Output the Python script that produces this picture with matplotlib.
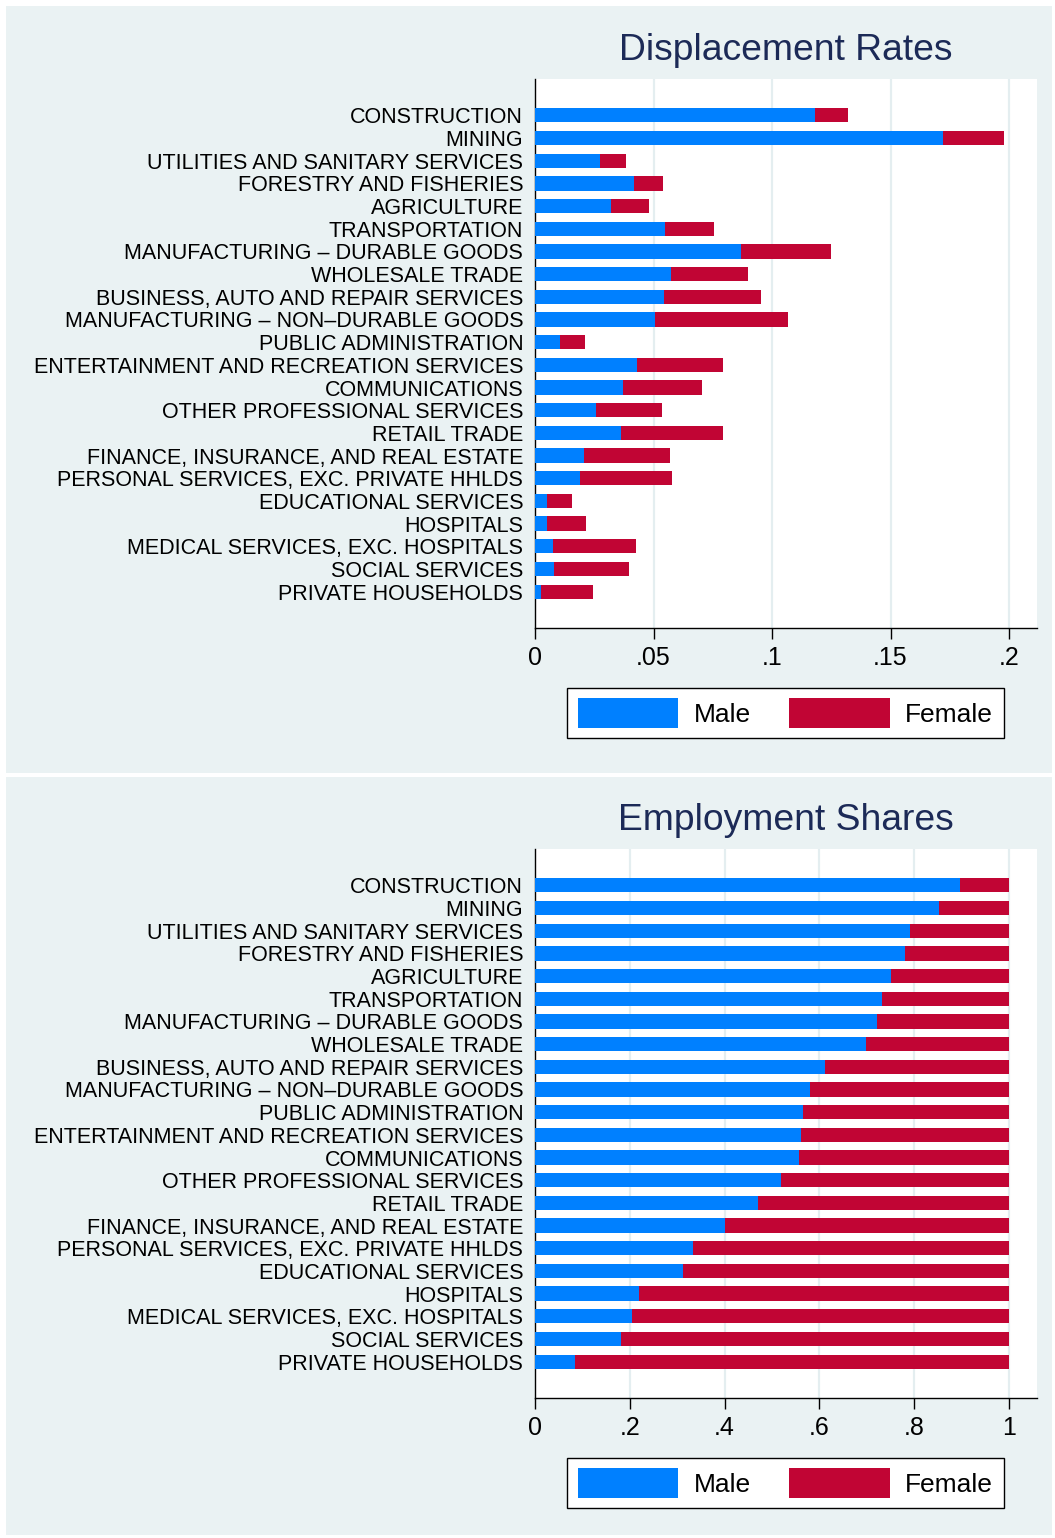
import matplotlib
matplotlib.use("Agg")
import matplotlib.pyplot as plt
from matplotlib.patches import Rectangle, Patch
import numpy as np

plt.rcParams['font.family'] = ['Liberation Sans', 'DejaVu Sans']

# industries, top to bottom
industries = [
    "CONSTRUCTION",
    "MINING",
    "UTILITIES AND SANITARY SERVICES",
    "FORESTRY AND FISHERIES",
    "AGRICULTURE",
    "TRANSPORTATION",
    "MANUFACTURING \u2013 DURABLE GOODS",
    "WHOLESALE TRADE",
    "BUSINESS, AUTO AND REPAIR SERVICES",
    "MANUFACTURING \u2013 NON\u2013DURABLE GOODS",
    "PUBLIC ADMINISTRATION",
    "ENTERTAINMENT AND RECREATION SERVICES",
    "COMMUNICATIONS",
    "OTHER PROFESSIONAL SERVICES",
    "RETAIL TRADE",
    "FINANCE, INSURANCE, AND REAL ESTATE",
    "PERSONAL SERVICES, EXC. PRIVATE HHLDS",
    "EDUCATIONAL SERVICES",
    "HOSPITALS",
    "MEDICAL SERVICES, EXC. HOSPITALS",
    "SOCIAL SERVICES",
    "PRIVATE HOUSEHOLDS",
]

# displacement rates (stacked: male + female)
disp_male = [0.1181, 0.1722, 0.0274, 0.0419, 0.0321, 0.0550, 0.0868, 0.0574,
             0.0544, 0.0508, 0.0105, 0.0430, 0.0371, 0.0259, 0.0363, 0.0205,
             0.0188, 0.0051, 0.0051, 0.0075, 0.0081, 0.0025]
disp_female = [0.0138, 0.0257, 0.0109, 0.0121, 0.0161, 0.0207, 0.0381, 0.0326,
               0.0410, 0.0558, 0.0106, 0.0365, 0.0334, 0.0277, 0.0430, 0.0365,
               0.0390, 0.0106, 0.0164, 0.0352, 0.0316, 0.0218]

# employment shares
emp_male = [0.897, 0.852, 0.792, 0.780, 0.751, 0.732, 0.722, 0.698,
            0.611, 0.580, 0.565, 0.562, 0.557, 0.519, 0.470, 0.401,
            0.333, 0.313, 0.219, 0.205, 0.181, 0.085]
emp_female = [0.103, 0.148, 0.208, 0.220, 0.249, 0.268, 0.278, 0.302,
              0.389, 0.420, 0.435, 0.438, 0.443, 0.481, 0.530, 0.599,
              0.667, 0.687, 0.781, 0.795, 0.819, 0.915]

disp_ticks = [0, 0.05, 0.1, 0.15, 0.2]
disp_ticklabels = ["0", ".05", ".1", ".15", ".2"]
emp_ticks = [0, 0.2, 0.4, 0.6, 0.8, 1.0]
emp_ticklabels = ["0", ".2", ".4", ".6", ".8", "1"]

BLUE = "#0080FF"
RED = "#C10534"
BG = "#EAF2F3"
GRID = "#E4EEF0"
TITLE = "#1C2A57"

W, H = 1055, 1538
fig = plt.figure(figsize=(W / 100, H / 100), dpi=100, facecolor="white")


def fx(px):
    return px / W


def fy(py):
    return 1 - py / H


# light bluish panel backgrounds (one per graph), kept behind the axes
for top, bot in [(6, 773), (777, 1535)]:
    fig.patches.append(Rectangle((fx(6), fy(bot)), fx(1052) - fx(6), fy(top) - fy(bot),
                                 transform=fig.transFigure, facecolor=BG,
                                 edgecolor="none", zorder=-10))


def panel(top, bottom, title, male, female, xmax, ticks, ticklabels):
    ax = fig.add_axes([fx(535), fy(bottom), fx(1037) - fx(535), fy(top) - fy(bottom)])
    ax.set_facecolor("white")
    y = np.arange(len(industries))
    ax.barh(y, male, height=0.63, color=BLUE, zorder=3, label="Male")
    ax.barh(y, female, left=male, height=0.63, color=RED, zorder=3, label="Female")
    ax.set_ylim(len(industries) - 1 + 1.6, -1.6)
    ax.set_xlim(0, xmax)

    ax.set_yticks(y)
    ax.set_yticklabels(industries, fontsize=15.5)
    ax.tick_params(axis="y", length=0, pad=8.5)
    ax.set_xticks(ticks)
    ax.set_xticklabels(ticklabels, fontsize=18)
    ax.tick_params(axis="x", length=8, width=1.0, pad=5)

    for t in ticks[1:]:
        ax.axvline(t, color=GRID, lw=1.6, zorder=1)

    for s in ["top", "right"]:
        ax.spines[s].set_visible(False)
    for s in ["left", "bottom"]:
        ax.spines[s].set_linewidth(1.0)
        ax.spines[s].set_color("black")

    fig.text(fx(786), fy(top - 29), title, ha="center", va="center",
             fontsize=26.8, color=TITLE)

    handles = [Patch(facecolor=BLUE, label="Male"), Patch(facecolor=RED, label="Female")]
    leg = fig.legend(handles=handles, loc="center", ncol=2,
                     bbox_to_anchor=(fx(785.5), fy(bottom + 85)),
                     bbox_transform=fig.transFigure,
                     fontsize=19, frameon=True, fancybox=False, shadow=False,
                     edgecolor="black", facecolor="white", framealpha=1,
                     handlelength=3.8, handleheight=1.35, handletextpad=0.6,
                     columnspacing=1.45, borderpad=0.4)
    leg.get_frame().set_linewidth(1.0)
    return ax


panel(79, 628, "Displacement Rates", disp_male, disp_female, 0.2118,
      disp_ticks, disp_ticklabels)
panel(849, 1398, "Employment Shares", emp_male, emp_female, 1.059,
      emp_ticks, emp_ticklabels)

fig.savefig("out.png", dpi=100, facecolor=fig.get_facecolor())
